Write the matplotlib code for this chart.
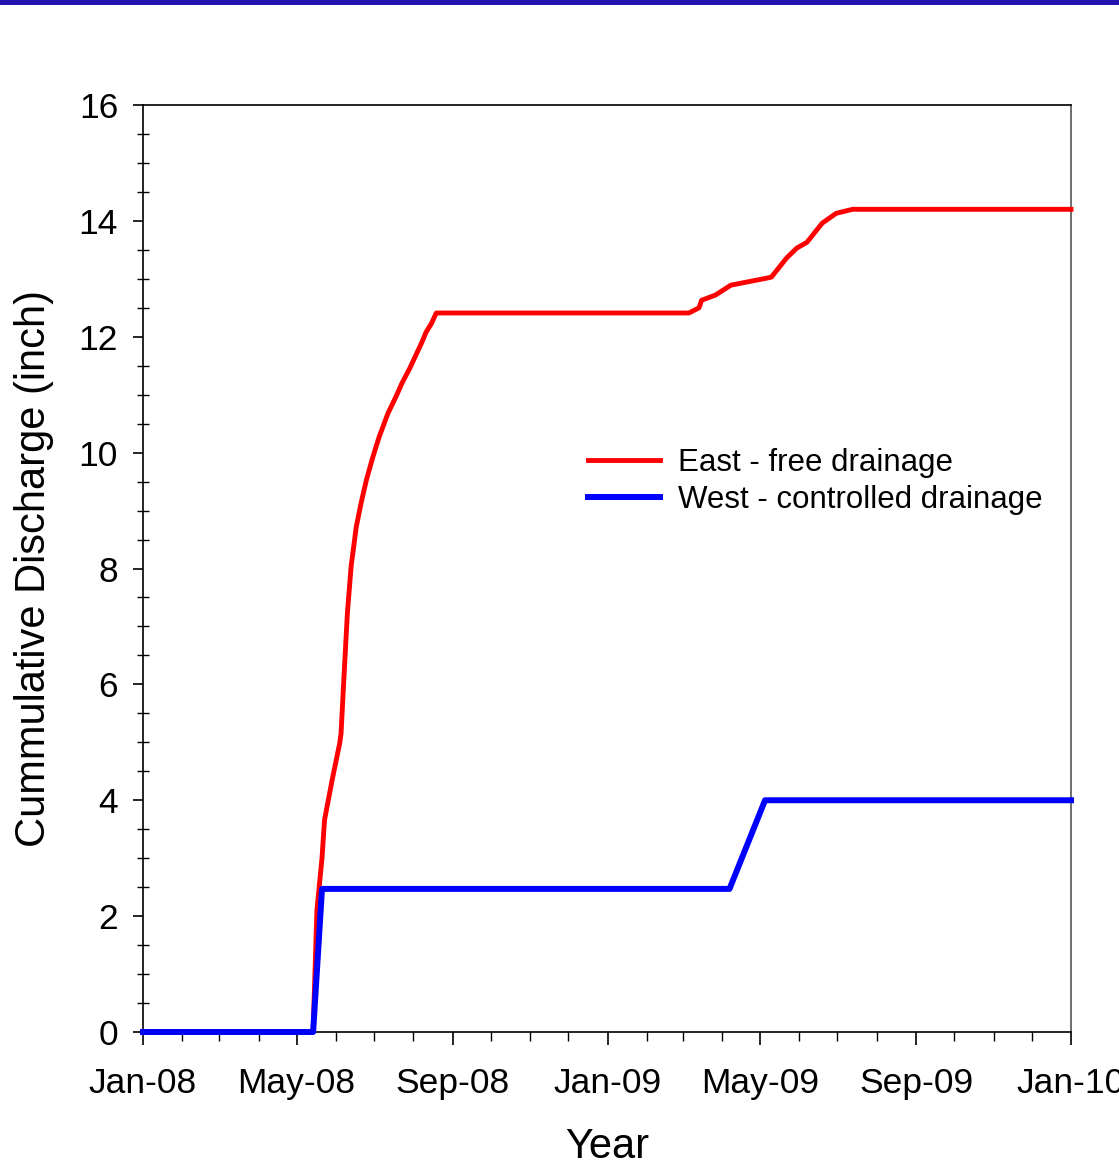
import matplotlib
matplotlib.use("Agg")
import matplotlib.pyplot as plt
import matplotlib.dates as mdates
import numpy as np
from matplotlib.patches import Rectangle
from matplotlib.ticker import MultipleLocator

plt.rcParams["font.family"] = ["Liberation Sans", "DejaVu Sans"]

# cumulative tile discharge, inches
east_dates = [
    "2008-01-01", "2008-05-14", "2008-05-17", "2008-05-21", "2008-05-23",
    "2008-05-29", "2008-06-04", "2008-06-05", "2008-06-07", "2008-06-10",
    "2008-06-13", "2008-06-17", "2008-06-21", "2008-06-25", "2008-06-30",
    "2008-07-05", "2008-07-12", "2008-07-19", "2008-07-23", "2008-07-29",
    "2008-08-08", "2008-08-11", "2008-08-15", "2008-08-19", "2009-03-06",
    "2009-03-14", "2009-03-16", "2009-03-27", "2009-04-08", "2009-05-06",
    "2009-05-10", "2009-05-22", "2009-05-30", "2009-06-07", "2009-06-19",
    "2009-06-30", "2009-07-13", "2010-01-01",
]
east_values = [
    0.0, 0.0, 2.1, 3.0, 3.66,
    4.35, 4.99, 5.15, 6.0, 7.23,
    8.05, 8.72, 9.15, 9.53, 9.92,
    10.27, 10.68, 11.0, 11.2, 11.45,
    11.92, 12.08, 12.22, 12.41, 12.41,
    12.5, 12.63, 12.72, 12.89, 13.01,
    13.03, 13.36, 13.53, 13.63, 13.96,
    14.13, 14.2, 14.2,
]

west_dates = ["2008-01-01", "2008-05-14", "2008-05-21", "2009-04-07", "2009-05-05", "2010-01-01"]
west_values = [0.0, 0.0, 2.47, 2.47, 4.0, 4.0]

east_x = np.array(east_dates, dtype="datetime64[D]")
west_x = np.array(west_dates, dtype="datetime64[D]")

fig = plt.figure(figsize=(11.19, 11.68), dpi=100)
fig.patch.set_facecolor("white")
fig.add_artist(Rectangle((0, 1 - 5 / 1168), 1, 5 / 1168, transform=fig.transFigure,
                         facecolor="#2214b0", edgecolor="none"))

ax = fig.add_axes([143 / 1119, 1 - 1032 / 1168, 928 / 1119, 927 / 1168])

ax.plot(east_x, east_values, color="#ff0000", linewidth=3.5,
        label="East - free drainage", clip_on=False, zorder=3)
ax.plot(west_x, west_values, color="#0000ff", linewidth=4.3,
        label="West - controlled drainage", clip_on=False, zorder=4)

ax.set_xlim(np.datetime64("2008-01-01"), np.datetime64("2010-01-01"))
ax.set_ylim(0, 16)

ax.xaxis.set_major_locator(mdates.MonthLocator(bymonth=[1, 5, 9]))
ax.xaxis.set_minor_locator(mdates.MonthLocator())
ax.xaxis.set_major_formatter(mdates.DateFormatter("%b-%y"))
ax.yaxis.set_major_locator(MultipleLocator(2))
ax.yaxis.set_minor_locator(MultipleLocator(0.5))

ax.tick_params(axis="x", which="major", direction="out", length=9.5, width=1.2,
               labelsize=25.5, pad=16)
ax.tick_params(axis="x", which="minor", direction="out", length=6.5, width=1.0)
ax.tick_params(axis="y", which="major", direction="out", length=7, width=1.2,
               labelsize=25.5, pad=11)
ax.tick_params(axis="y", which="minor", direction="inout", length=9, width=1.0)

for side in ["left", "bottom", "top"]:
    ax.spines[side].set_linewidth(1.2)
    ax.spines[side].set_color("black")
ax.spines["right"].set_color("#555555")
ax.spines["right"].set_linewidth(1.2)

ax.set_xlabel("Year", fontsize=30, labelpad=19)
ax.set_ylabel("Cummulative Discharge (inch)", fontsize=30, labelpad=18)

ax.legend(loc="center left", bbox_to_anchor=((588 - 143) / 928, (1032 - 481.5) / 927),
          frameon=False, fontsize=22.5, handlelength=2.3, handletextpad=0.58,
          labelspacing=0.25, borderpad=0, borderaxespad=0)

fig.savefig("out.png", dpi=100)
